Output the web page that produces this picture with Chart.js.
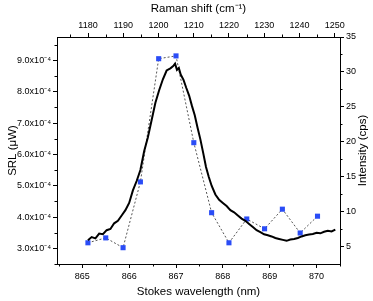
<!DOCTYPE html>
<html>
<head>
<meta charset="utf-8">
<script src="https://cdn.jsdelivr.net/npm/chart.js@4/dist/chart.umd.min.js"></script>
<style>
html,body{margin:0;padding:0;background:#fff;}
#wrap{width:373px;height:301px;}
</style>
</head>
<body>
<div id="wrap"><canvas id="c" width="373" height="301"></canvas></div>
<script>
// Black spectrum: Stokes wavelength (nm) vs SRL (units of 1e-4 uW)
const srlWavelength = [865.12,865.20,865.28,865.36,865.44,865.52,865.60,865.68,865.76,865.84,865.92,866.00,866.08,866.16,866.24,866.32,866.40,866.48,866.56,866.64,866.72,866.80,866.88,866.94,866.98,867.02,867.06,867.10,867.16,867.22,867.28,867.34,867.40,867.46,867.52,867.58,867.64,867.70,867.76,867.84,867.92,868.00,868.08,868.16,868.24,868.32,868.40,868.48,868.56,868.64,868.72,868.80,868.88,868.96,869.04,869.12,869.20,869.28,869.36,869.44,869.52,869.60,869.68,869.76,869.84,869.92,870.00,870.08,870.16,870.24,870.32,870.40];
const srlE4 = [3.26,3.36,3.32,3.47,3.45,3.58,3.62,3.80,3.88,4.05,4.22,4.45,4.85,5.15,5.50,6.10,6.55,7.10,7.65,8.05,8.40,8.68,8.75,8.82,8.90,8.70,8.76,8.55,8.38,8.12,7.88,7.55,7.25,6.85,6.48,6.05,5.60,5.28,5.00,4.72,4.55,4.45,4.35,4.22,4.15,4.05,3.95,3.88,3.78,3.68,3.58,3.52,3.45,3.42,3.38,3.33,3.30,3.27,3.24,3.28,3.30,3.33,3.38,3.42,3.44,3.46,3.50,3.48,3.53,3.56,3.54,3.60];

// Blue squares: Stokes wavelength (nm) vs intensity (cps)
const cpsWavelength = [865.12,865.50,865.87,866.24,866.63,867.00,867.38,867.76,868.13,868.51,868.89,869.27,869.65,870.02];
const cpsValues = [5.6,6.3,4.9,14.3,31.9,32.3,19.9,9.9,5.6,9.0,7.6,10.4,7.0,9.4];

// Axis ticks
const bottomTicks = [865,866,867,868,869,870];
const topTicks = [1180,1190,1200,1210,1220,1230,1240,1250];
const leftTicks = [3,4,5,6,7,8,9];
const leftTickLabels = ['3.0x10\u207B\u2074','4.0x10\u207B\u2074','5.0x10\u207B\u2074','6.0x10\u207B\u2074','7.0x10\u207B\u2074','8.0x10\u207B\u2074','9.0x10\u207B\u2074'];
const rightTicks = [5,10,15,20,25,30,35];
const rightTitle = 'Intensity (cps)';

const FONT = "'Liberation Sans', Arial, sans-serif";

function fixTicks(values){
  return function(scale){ scale.ticks = values.map(v => ({value: v})); };
}
function minorValues(vals, min, max){
  const out = [];
  const step = vals[1]-vals[0];
  for (let i = -1; i < vals.length; i++) {
    const m = (i < 0 ? vals[0]-step : vals[i]) + step/2;
    if (m >= min && m <= max) out.push(m);
  }
  return out;
}

const minorTickPlugin = {
  id: 'minorTicks',
  afterDraw(chart){
    const ctx = chart.ctx;
    const defs = [
      {id:'x', vals: bottomTicks},
      {id:'x2', vals: topTicks},
      {id:'y', vals: leftTicks},
      {id:'y2', vals: rightTicks}
    ];
    ctx.save();
    ctx.strokeStyle = '#000';
    ctx.lineWidth = 1;
    defs.forEach(d => {
      const s = chart.scales[d.id];
      const mins = minorValues(d.vals, s.min, s.max);
      mins.forEach(v => {
        const p = Math.round(s.getPixelForValue(v)) + 0.5;
        ctx.beginPath();
        if (d.id === 'x') { ctx.moveTo(p, s.top); ctx.lineTo(p, s.top + 2.5); }
        else if (d.id === 'x2') { ctx.moveTo(p, s.bottom); ctx.lineTo(p, s.bottom - 2.5); }
        else if (d.id === 'y') { ctx.moveTo(s.right, p); ctx.lineTo(s.right - 2.5, p); }
        else { ctx.moveTo(s.left, p); ctx.lineTo(s.left + 2.5, p); }
        ctx.stroke();
      });
    });
    // right axis title, reading bottom-to-top like the reference
    const s2 = chart.scales.y2;
    ctx.fillStyle = '#000';
    ctx.font = '11.5px ' + FONT;
    ctx.textAlign = 'center';
    ctx.textBaseline = 'middle';
    ctx.translate(s2.right - 10, (s2.top + s2.bottom) / 2);
    ctx.rotate(-Math.PI / 2);
    ctx.fillText(rightTitle, 0, 0);
    ctx.restore();
  }
};

const tickFont = {family: FONT, size: 9};
const titleFont = {family: FONT, size: 11.5};

new Chart(document.getElementById('c'), {
  type: 'line',
  data: {
    datasets: [
      {
        label: 'SRL',
        data: srlWavelength.map((w, i) => ({x: w, y: srlE4[i]})),
        xAxisID: 'x', yAxisID: 'y',
        borderColor: '#000', borderWidth: 2,
        pointRadius: 0, tension: 0, order: 0
      },
      {
        label: 'Intensity',
        data: cpsWavelength.map((w, i) => ({x: w, y: cpsValues[i]})),
        xAxisID: 'x', yAxisID: 'y2',
        borderColor: '#555', borderWidth: 1, borderDash: [2, 2],
        pointStyle: 'rect', pointRadius: 3.6,
        pointBackgroundColor: '#2a4cf6', pointBorderColor: '#2a4cf6', pointBorderWidth: 0,
        tension: 0, order: 1
      }
    ]
  },
  options: {
    responsive: false,
    animation: false,
    devicePixelRatio: 1,
    layout: {padding: 0},
    plugins: {legend: {display: false}, tooltip: {enabled: false}},
    scales: {
      x: {
        type: 'linear', position: 'bottom', min: 864.46, max: 870.5,
        afterBuildTicks: fixTicks(bottomTicks),
        afterFit(s){ s.height = 37; },
        grid: {drawOnChartArea: false, tickLength: 4, color: '#000'},
        border: {color: '#000', width: 1},
        ticks: {font: tickFont, color: '#000', padding: 3, maxRotation: 0, autoSkip: false,
          callback: (v) => String(v)},
        title: {display: true, text: 'Stokes wavelength (nm)', font: titleFont, color: '#000', padding: {top: 0, bottom: 2.4}}
      },
      x2: {
        type: 'linear', position: 'top', min: 1171.2, max: 1251.5,
        afterBuildTicks: fixTicks(topTicks),
        afterFit(s){ s.height = 37; },
        grid: {drawOnChartArea: false, tickLength: 4, color: '#000'},
        border: {color: '#000', width: 1},
        ticks: {font: tickFont, color: '#000', padding: 2, maxRotation: 0, autoSkip: false,
          callback: (v) => String(v)},
        title: {display: true, text: 'Raman shift (cm\u207B\u00B9)', font: titleFont, color: '#000', padding: {top: 2.4, bottom: 0}}
      },
      y: {
        type: 'linear', position: 'left', min: 2.5, max: 9.75,
        afterBuildTicks: fixTicks(leftTicks),
        afterFit(s){ s.width = 57; },
        grid: {drawOnChartArea: false, tickLength: 4, color: '#000'},
        border: {color: '#000', width: 1},
        ticks: {font: tickFont, color: '#000', padding: 2, autoSkip: false,
          callback: (v) => { const i = leftTicks.indexOf(v); return i >= 0 ? leftTickLabels[i] : ''; }},
        title: {display: true, text: 'SRL (\u03BCW)', font: titleFont, color: '#000', padding: {top: 6, bottom: 0}}
      },
      y2: {
        type: 'linear', position: 'right', min: 2.57, max: 35,
        afterBuildTicks: fixTicks(rightTicks),
        afterFit(s){ s.width = 33; },
        grid: {drawOnChartArea: false, tickLength: 4, color: '#000'},
        border: {color: '#000', width: 1},
        ticks: {font: tickFont, color: '#000', padding: 2, autoSkip: false},
        title: {display: false}
      }
    }
  },
  plugins: [minorTickPlugin]
});
</script>
</body>
</html>
